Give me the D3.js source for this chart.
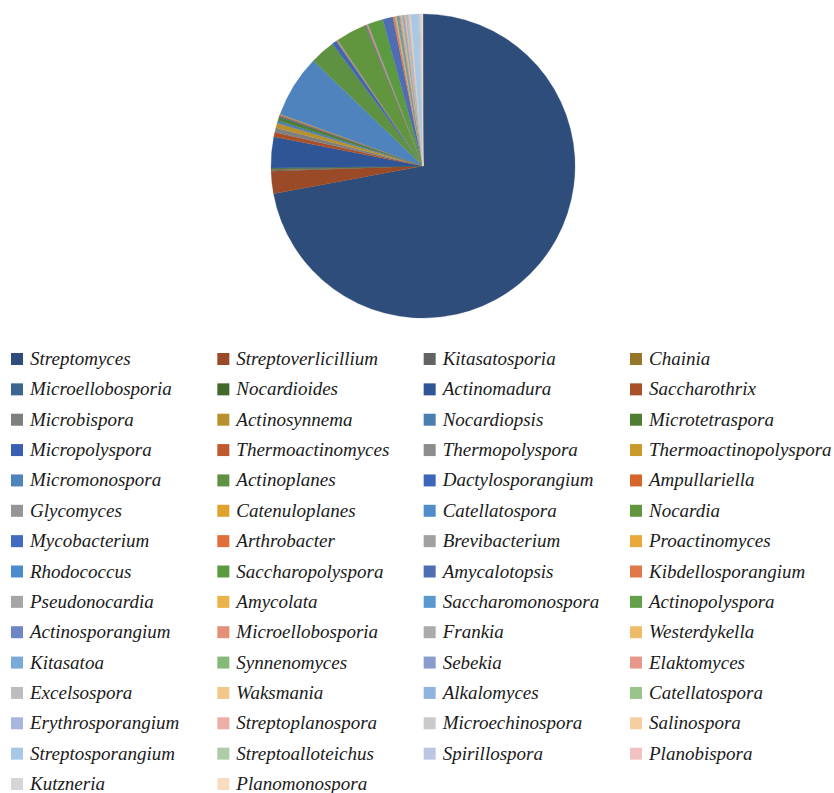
<!DOCTYPE html>
<html>
<head>
<meta charset="utf-8">
<script src="https://cdn.jsdelivr.net/npm/d3@7"></script>
</head>
<body style="margin:0">
<svg id="chart" width="834" height="793"></svg>
<script>
const categories = [
  "Streptomyces","Streptoverlicillium","Kitasatosporia","Chainia",
  "Microellobosporia","Nocardioides","Actinomadura","Saccharothrix",
  "Microbispora","Actinosynnema","Nocardiopsis","Microtetraspora",
  "Micropolyspora","Thermoactinomyces","Thermopolyspora","Thermoactinopolyspora",
  "Micromonospora","Actinoplanes","Dactylosporangium","Ampullariella",
  "Glycomyces","Catenuloplanes","Catellatospora","Nocardia",
  "Mycobacterium","Arthrobacter","Brevibacterium","Proactinomyces",
  "Rhodococcus","Saccharopolyspora","Amycalotopsis","Kibdellosporangium",
  "Pseudonocardia","Amycolata","Saccharomonospora","Actinopolyspora",
  "Actinosporangium","Microellobosporia","Frankia","Westerdykella",
  "Kitasatoa","Synnenomyces","Sebekia","Elaktomyces",
  "Excelsospora","Waksmania","Alkalomyces","Catellatospora",
  "Erythrosporangium","Streptoplanospora","Microechinospora","Salinospora",
  "Streptosporangium","Streptoalloteichus","Spirillospora","Planobispora",
  "Kutzneria","Planomonospora"
];

const values = [
  72.8, 2.4, 0.1, 0.1,
  0.05, 0.1, 3.3, 0.5,
  0.5, 0.5, 0.3, 0.4,
  0.1, 0.1, 0.05, 0.05,
  6.7, 2.7, 0.5, 0.05,
  0.05, 0.05, 0.05, 3.3,
  0.1, 0.1, 0.05, 0.05,
  0.05, 1.6, 1.1, 0.2,
  0.1, 0.1, 0.1, 0.1,
  0.1, 0.1, 0.1, 0.1,
  0.1, 0.05, 0.05, 0.1,
  0.05, 0.05, 0.1, 0.05,
  0.1, 0.1, 0.05, 0.1,
  0.8, 0.1, 0.15, 0.1,
  0.1, 0.05
];

const colors = [
  "#2e4d7b","#9a4a26","#636363","#97762a",
  "#3a6690","#43682b","#2f5597","#a9502a",
  "#7f7f7f","#b8912e","#4a7eb0","#4f7d34",
  "#3a5fb0","#c05a2e","#8c8c8c","#c79a2a",
  "#4f83bd","#5e9142","#3e66b8","#d6652c",
  "#959595","#e0a22c","#528dcb","#62963e",
  "#4469c0","#e0703a","#a0a0a0","#e8a93a",
  "#4a8bcb","#5c9a40","#4e6db3","#e0784a",
  "#a5a5a5","#ebb14a","#5a98d0","#62a04a",
  "#6f86c4","#e48f78","#ababab","#eebb6a",
  "#7aaada","#86b878","#8a9cce","#e8988a",
  "#bdbdbd","#f2c88a","#90b4df","#99c48c",
  "#a8b5dd","#eeaea8","#cacaca","#f5cfa0",
  "#a9c7e6","#afcca8","#bcc6e2","#f0c3c0",
  "#d5d5d5","#f8dcc0"
];

const data = categories.map((c, i) => ({ name: c, value: values[i], color: colors[i], idx: i }));

const svg = d3.select("#chart");

// Pie
const cx = 423, cy = 166, radius = 152;
const pie = d3.pie().value(d => d.value).sort(null);
const arc = d3.arc().innerRadius(0).outerRadius(radius);

svg.append("g")
  .attr("transform", `translate(${cx},${cy})`)
  .selectAll("path")
  .data(pie(data))
  .join("path")
  .attr("d", arc)
  .attr("fill", d => d.data.color)
  .attr("stroke", d => d.data.color)
  .attr("stroke-width", 0.3);

// Legend (4 columns, row-major)
const nCols = 4;
const colX = d3.scaleLinear().domain([0, nCols - 1]).range([11, 630]);
const rowY = d3.scaleLinear().domain([0, 14]).range([359, 784]);

data.forEach(d => {
  const x = colX(d.idx % nCols);
  const y = rowY(Math.floor(d.idx / nCols));
  svg.append("rect")
    .attr("x", x).attr("y", y - 6)
    .attr("width", 12).attr("height", 12)
    .attr("fill", d.color);
  const t = svg.append("text")
    .attr("x", x + 19).attr("y", y + 6)
    .style("font-family", '"Liberation Serif"')
    .style("font-style", "italic")
    .style("font-size", "19px")
    .style("fill", "#1a1a1a")
    .text(d.name);
  t.node().getComputedTextLength();
});
</script>
</body>
</html>
